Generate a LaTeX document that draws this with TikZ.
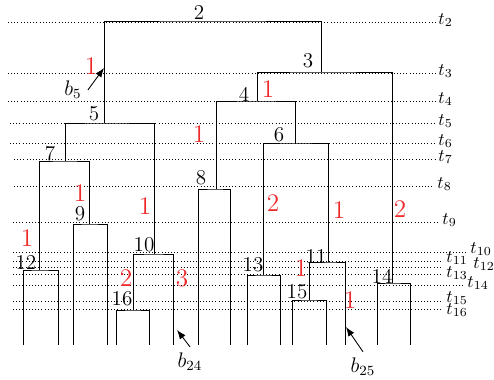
\documentclass[tikz,border=0pt]{standalone}
\usetikzlibrary{arrows.meta}
\definecolor{weight}{HTML}{EE2A2A}

\begin{document}
\begin{tikzpicture}[x=0.02cm, y=-0.02cm, >=Latex, line width=0.5pt]
  \tikzset{tlab/.style={anchor=base west, inner sep=0pt},
           level/.style={line width=0.45pt, dash pattern=on 0.45pt off 1.35pt},
           num/.style={font=\large, inner sep=0pt},
           wt/.style={font=\Large, text=weight, inner sep=0pt}}
  \useasboundingbox (0,0) rectangle (494,379);
  % time levels
  \foreach \k/\y/\xa/\xb/\lx/\ly in {2/22/8/435/438/24, 3/73/8/435/438/75, 4/101/8/435/438/103,
      5/123/10/435/438/125, 6/143/10/435/438/145, 7/159/14/435/438/161, 8/186/14/434/437/188,
      9/222/13/439/442/224, 10/252/13/467/470/253, 11/261/13/443/446/262, 12/267/13/443/473/268,
      13/274/13/443/446/277, 14/285/13/464/467/287, 15/301/13/443/446/302, 16/309/13/443/446/314} {
    \coordinate (s\k) at (\xa,\y);
    \coordinate (e\k) at (\xb,\y);
    \node[tlab] (t\k) at (\lx,\ly) {$t_{\k}$};
    \draw[level] (s\k) -- (e\k);
  }
  % leaves
  \foreach \i/\x in {1/23, 2/58, 3/73, 4/107, 5/116, 6/149, 7/173, 8/198,
      9/230, 10/247, 11/280, 12/292, 13/326, 14/345, 15/377, 16/410}
    \coordinate (leaf\i) at (\x,345);
  % internal vertices
  \coordinate (v2) at (212,21);
  \coordinate (v3) at (321,72);
  \coordinate (v4) at (257,101);
  \coordinate (v5) at (104,123);
  \coordinate (v6) at (295,143);
  \coordinate (v7) at (65,161);
  \coordinate (v8) at (216,189);
  \coordinate (v9) at (89,224);
  \coordinate (v10) at (154,254);
  \coordinate (v11) at (328,262);
  \coordinate (v12) at (39,270);
  \coordinate (v13) at (263,275);
  \coordinate (v14) at (392,283);
  \coordinate (v15) at (309,300);
  \coordinate (v16) at (133,310);
  % tree
  \draw (leaf1) |- (v12) -| (leaf2);
  \draw (leaf3) |- (v9) -| (leaf4);
  \draw (leaf5) |- (v16) -| (leaf6);
  \draw (v16) |- (v10) -| (leaf7);
  \draw (v12) |- (v7) -| (v9);
  \draw (v7) |- (v5) -| (v10);
  \draw (leaf8) |- (v8) -| (leaf9);
  \draw (leaf10) |- (v13) -| (leaf11);
  \draw (leaf12) |- (v15) -| (leaf13);
  \draw (v15) |- (v11) -| (leaf14);
  \draw (v13) |- (v6) -| (v11);
  \draw (v8) |- (v4) -| (v6);
  \draw (leaf15) |- (v14) -| (leaf16);
  \draw (v4) |- (v3) -| (v14);
  \draw (v5) |- (v2) -| (v3);
  % vertex numbers
  \node[num] (k2) at (199,12) {2};
  \node[num] (k3) at (308,61) {3};
  \node[num] (k4) at (244,94) {4};
  \node[num] (k5) at (94,114) {5};
  \node[num] (k6) at (279,135) {6};
  \node[num] (k7) at (50,154) {7};
  \node[num] (k8) at (201,178) {8};
  \node[num] (k9) at (80,214) {9};
  \node[num] (k10) at (144,245) {10};
  \node[num] (k11) at (316,256) {11};
  \node[num] (k12) at (26,262) {12};
  \node[num] (k13) at (253,265) {13};
  \node[num] (k14) at (382,276) {14};
  \node[num] (k15) at (297,292) {15};
  \node[num] (k16) at (122,299) {16};
  % branch weights
  \node[wt] (w5) at (91,66) {1};
  \node[wt] (w4) at (268,89) {1};
  \node[wt] (w8) at (199,134) {1};
  \node[wt] (w9) at (80,193) {1};
  \node[wt] (w10) at (145,206) {1};
  \node[wt] (w12) at (27,238) {1};
  \node[wt] (w16) at (126,278) {2};
  \node[wt] (w24) at (182,278) {3};
  \node[wt] (w13) at (273,203) {2};
  \node[wt] (w11) at (339,210) {1};
  \node[wt] (w14) at (400,209) {2};
  \node[wt] (w15) at (301,268) {1};
  \node[wt] (w25) at (350,300) {1};
  % branches pointed at
  \node[font=\large] (b5) at (73,90) {$b_5$};
  \node[font=\large] (b24) at (190,362) {$b_{24}$};
  \node[font=\large] (b25) at (363,367) {$b_{25}$};
  \coordinate (h5) at (104,68);
  \coordinate (h24) at (177,330);
  \coordinate (h25) at (346,327);
  \draw[->] (b5.east) -- (h5);
  \draw[->] (b24.north) -- (h24);
  \draw[->] (b25.north) -- (h25);
\end{tikzpicture}
\end{document}
